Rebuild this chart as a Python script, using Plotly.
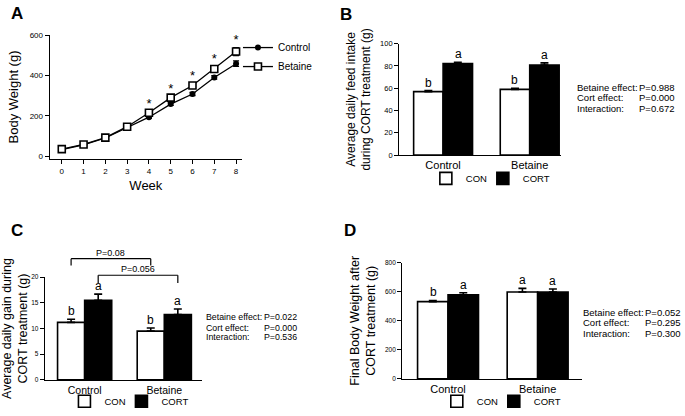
import plotly.graph_objects as go

# ---------------- Data ----------------
weeks = [0, 1, 2, 3, 4, 5, 6, 7, 8]
bw_control = [32, 56, 90, 141, 193, 258, 308, 390, 458]
bw_control_err = [3, 3, 4, 5, 6, 7, 8, 9, 14]
bw_betaine = [35, 58, 92, 146, 215, 290, 350, 432, 518]
bw_betaine_err = [3, 3, 4, 5, 8, 9, 10, 12, 20]
star_weeks = [4, 5, 6, 7, 8]

groups = ["Control", "Betaine"]

feed_con = [57.0, 59.0]
feed_con_err = [1.0, 1.0]
feed_cort = [82.3, 80.8]
feed_cort_err = [1.0, 2.0]
feed_letters_con = ["b", "b"]
feed_letters_cort = ["a", "a"]
feed_stats = [("Betaine effect:", "P=0.988"), ("Cort effect:", "P=0.000"), ("Interaction:", "P=0.672")]

gain_con = [11.2, 9.5]
gain_con_err = [0.6, 0.6]
gain_cort = [15.5, 12.7]
gain_cort_err = [1.2, 1.1]
gain_letters_con = ["b", "b"]
gain_letters_cort = ["a", "a"]
gain_stats = [("Betaine effect:", "P=0.022"), ("Cort effect:", "P=0.000"), ("Interaction:", "P=0.536")]
gain_pvals = ["P=0.08", "P=0.056"]

final_con = [532, 598]
final_con_err = [8, 25]
final_cort = [578, 597]
final_cort_err = [15, 22]
final_letters_con = ["b", "a"]
final_letters_cort = ["a", "a"]
final_stats = [("Betaine effect:", "P=0.052"), ("Cort effect:", "P=0.295"), ("Interaction:", "P=0.300")]

# ---------------- Helpers ----------------
W, H = 685, 416
FONT = "Arial, Liberation Sans, sans-serif"


def px(x):
    return x / W


def py(y):
    return 1 - y / H


fig = go.Figure()

# ---------------- Panel A : body weight curve ----------------
fig.add_trace(go.Scatter(
    x=weeks, y=bw_control, mode="lines+markers", name="Control",
    line=dict(color="black", width=1.3),
    marker=dict(symbol="circle", size=6, color="black"),
    error_y=dict(type="data", array=bw_control_err, color="black", thickness=1.2, width=3),
    xaxis="x", yaxis="y", legend="legend"
))
fig.add_trace(go.Scatter(
    x=weeks, y=bw_betaine, mode="lines+markers", name="Betaine",
    line=dict(color="black", width=1.3),
    marker=dict(symbol="square", size=7, color="white", line=dict(color="black", width=1.6)),
    error_y=dict(type="data", array=bw_betaine_err, color="black", thickness=1.2, width=3),
    xaxis="x", yaxis="y", legend="legend"
))
star_y = [bw_betaine[w] + bw_betaine_err[w] for w in star_weeks]
fig.add_trace(go.Scatter(
    x=star_weeks, y=star_y, mode="text", text=["*"] * len(star_weeks),
    textposition="top center", textfont=dict(size=13, color="black", family=FONT),
    showlegend=False, cliponaxis=False, xaxis="x", yaxis="y"
))


# ---------------- Bar panels ----------------
def bar_panel(n, con, con_err, cort, cort_err, legend_name):
    xa, ya = "x%d" % n, "y%d" % n
    fig.add_trace(go.Bar(
        x=groups, y=con, name="CON", legendwidth=12,
        marker=dict(color="white", line=dict(color="black", width=1.6)),
        error_y=dict(type="data", array=con_err, arrayminus=[0] * len(con_err), symmetric=False,
                     color="black", thickness=1.6, width=4),
        xaxis=xa, yaxis=ya, legend=legend_name
    ))
    fig.add_trace(go.Bar(
        x=groups, y=cort, name="CORT", legendwidth=28,
        marker=dict(color="black", line=dict(color="black", width=1.6)),
        error_y=dict(type="data", array=cort_err, arrayminus=[0] * len(cort_err), symmetric=False,
                     color="black", thickness=1.6, width=4),
        xaxis=xa, yaxis=ya, legend=legend_name
    ))


bar_panel(2, feed_con, feed_con_err, feed_cort, feed_cort_err, "legend2")
bar_panel(3, gain_con, gain_con_err, gain_cort, gain_cort_err, "legend3")
bar_panel(4, final_con, final_con_err, final_cort, final_cort_err, "legend4")

annotations = []

# significance letters above the error bars
letter_sets = [
    (2, feed_con, feed_con_err, feed_cort, feed_cort_err, feed_letters_con, feed_letters_cort, 15),
    (3, gain_con, gain_con_err, gain_cort, gain_cort_err, gain_letters_con, gain_letters_cort, 13.5),
    (4, final_con, final_con_err, final_cort, final_cort_err, final_letters_con, final_letters_cort, 15),
]
for n, con, ce, cort, cre, lc, lr, shift in letter_sets:
    for i, g in enumerate(groups):
        annotations.append(dict(x=g, y=con[i] + ce[i], xref="x%d" % n, yref="y%d" % n, text=lc[i],
                                showarrow=False, xshift=-shift, yanchor="bottom", yshift=-1,
                                font=dict(size=12, color="black", family=FONT)))
        annotations.append(dict(x=g, y=cort[i] + cre[i], xref="x%d" % n, yref="y%d" % n, text=lr[i],
                                showarrow=False, xshift=shift, yanchor="bottom", yshift=-1,
                                font=dict(size=12, color="black", family=FONT)))

# statistics text blocks
stat_blocks = [
    (feed_stats, 575, 637, [86, 97, 108], 9.5),
    (gain_stats, 202, 260, [323, 334, 344], 8.8),
    (final_stats, 581, 643, [318, 329, 340], 9.5),
]
for stats, xl, xp, ys, fs in stat_blocks:
    for (lab, pv), yy in zip(stats, ys):
        annotations.append(dict(x=px(xl), y=py(yy), xref="paper", yref="paper", text=lab,
                                showarrow=False, xanchor="left", yanchor="middle",
                                font=dict(size=fs, color="black", family=FONT)))
        annotations.append(dict(x=px(xp), y=py(yy), xref="paper", yref="paper", text=pv,
                                showarrow=False, xanchor="left", yanchor="middle",
                                font=dict(size=fs, color="black", family=FONT)))

# panel letters
for lab, xx, yy in [("A", 6, 10), ("B", 336, 11), ("C", 6, 234), ("D", 340, 234)]:
    annotations.append(dict(x=px(xx), y=py(yy), xref="paper", yref="paper", text="<b>%s</b>" % lab,
                            showarrow=False, xanchor="left", yanchor="middle",
                            font=dict(size=17, color="black", family=FONT)))

# comparison brackets in panel C (bar offset = quarter of group width)
off = 0.17
shapes = []
brackets = [
    (0 - off, 1 - off, 1.18, 1.113, gain_pvals[0]),
    (0 + off, 1 + off, 1.019, 0.943, gain_pvals[1]),
]
for x0, x1, ytop, yleg, label in brackets:
    for xs, ys in [((x0, x1), (ytop, ytop)), ((x0, x0), (ytop, yleg)), ((x1, x1), (ytop, yleg))]:
        shapes.append(dict(type="line", xref="x3", yref="y3 domain", x0=xs[0], x1=xs[1], y0=ys[0], y1=ys[1],
                           line=dict(color="black", width=1.2)))
    annotations.append(dict(x=(x0 + x1) / 2, y=ytop, xref="x3", yref="y3 domain", text=label,
                            showarrow=False, yanchor="bottom", yshift=-1,
                            font=dict(size=9, color="black", family=FONT)))

axis_common = dict(showline=True, linecolor="black", linewidth=1.3, ticks="outside", ticklen=4,
                   tickcolor="black", tickwidth=1.2, showgrid=False, zeroline=False)

bar_legend = dict(xanchor="center", yanchor="middle", orientation="h", font=dict(size=9.5),
                  bgcolor="rgba(0,0,0,0)", itemwidth=30)

fig.update_layout(
    width=W, height=H,
    margin=dict(l=0, r=0, t=0, b=0),
    paper_bgcolor="white", plot_bgcolor="white",
    font=dict(family=FONT, color="black"),
    barmode="group", bargap=0.32, bargroupgap=0,
    xaxis=dict(domain=[px(47), px(240)], range=[-0.55, 8.27], dtick=1, anchor="y",
               title=dict(text="Week", font=dict(size=13), standoff=6),
               tickfont=dict(size=8), **axis_common),
    yaxis=dict(domain=[py(160), py(32)], range=[-14, 600], tickvals=[0, 200, 400, 600], anchor="x",
               title=dict(text="Body Weight (g)", font=dict(size=13), standoff=8),
               tickfont=dict(size=8), **axis_common),
    xaxis2=dict(domain=[px(398), px(560)], range=[-0.506, 1.356], anchor="y2",
                tickfont=dict(size=11), **{**axis_common, "ticks": ""}),
    yaxis2=dict(domain=[py(156), py(41)], range=[0, 100], dtick=20, anchor="x2",
                title=dict(text="Average daily feed intake<br>during CORT treatment (g)", font=dict(size=12), standoff=6),
                tickfont=dict(size=7.5), **axis_common),
    xaxis3=dict(domain=[px(42), px(200)], range=[-0.5, 1.475], anchor="y3",
                tickfont=dict(size=10.5), **{**axis_common, "ticks": ""}),
    yaxis3=dict(domain=[py(388), py(282)], range=[0, 20], dtick=5, anchor="x3",
                title=dict(text="Average daily gain during<br>CORT treatment (g)", font=dict(size=12.5), standoff=6),
                tickfont=dict(size=6.5), **axis_common),
    xaxis4=dict(domain=[px(401), px(582)], range=[-0.511, 1.5], anchor="y4",
                tickfont=dict(size=11), **{**axis_common, "ticks": ""}),
    yaxis4=dict(domain=[py(387), py(267)], range=[0, 800], dtick=200, anchor="x4",
                title=dict(text="Final Body Weight after<br>CORT treatment (g)", font=dict(size=12.5), standoff=6),
                tickfont=dict(size=6.5), **axis_common),
    legend=dict(x=px(236), y=py(30), xanchor="left", yanchor="top", font=dict(size=10),
                bgcolor="rgba(0,0,0,0)", itemwidth=30, tracegroupgap=0),
    legend2=dict(x=px(490), y=py(180), **bar_legend),
    legend3=dict(x=px(127), y=py(410), **bar_legend),
    legend4=dict(x=px(501), y=py(410), **bar_legend),
    annotations=annotations,
    shapes=shapes,
)

# drop the default page margin so the figure sits at the window's corner
fig.write_html("out.html", config={"displayModeBar": False},
               post_script="document.body.style.margin='0px';")
